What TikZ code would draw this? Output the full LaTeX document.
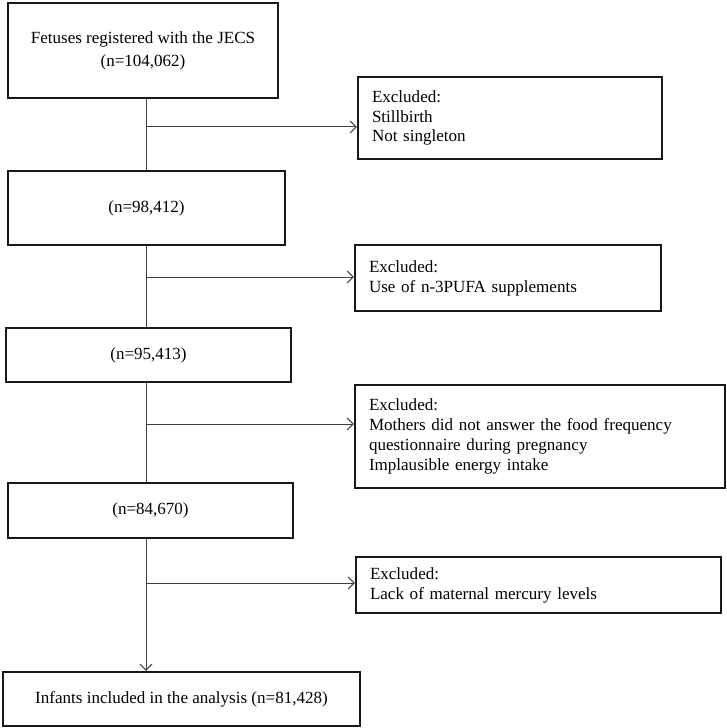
\documentclass[tikz,border=0pt]{standalone}
\usepackage{fontspec}
\setmainfont{Liberation Serif}
\usetikzlibrary{arrows.meta}
\begin{document}
\begin{tikzpicture}[x=1bp,y=-1bp,
  mainbox/.style={draw=black!90, line width=2.3bp, inner sep=0pt, align=center,
    font=\fontsize{17.1}{20}\selectfont},
  exbox/.style={draw=black!90, line width=2.3bp, inner xsep=14bp, inner ysep=0pt, align=left,
    font=\fontsize{17.1}{20}\selectfont},
  conn/.style={draw=black!75, line width=1bp},
  tip/.style={-{Straight Barb[length=6bp,width=12bp,line width=1bp]}}]
\useasboundingbox (0,0) rectangle (727,728);
\node[mainbox, minimum width=270bp, minimum height=95bp] (b1) at (143,50.5)
  {Fetuses registered with the JECS\\[3pt](n=104,062)};
\node[mainbox, minimum width=277bp, minimum height=74bp] (b2) at (146.5,208) {(n=98,412)};
\node[mainbox, minimum width=285bp, minimum height=54bp] (b3) at (148.5,355) {(n=95,413)};
\node[mainbox, minimum width=285bp, minimum height=55bp] (b4) at (150.5,510.5) {(n=84,670)};
\node[mainbox, minimum width=357bp, minimum height=54bp] (b5) at (181.5,699)
  {Infants included in the analysis (n=81,428)};
\node[exbox, text width=276bp, minimum height=82bp] (e1) at (510,118)
  {Excluded:\\Stillbirth\\Not singleton};
\node[exbox, text width=278bp, minimum height=66bp] (e2) at (508,278)
  {Excluded:\\Use of n-3PUFA supplements};
\node[exbox, text width=342bp, minimum height=103bp] (e3) at (540,436.5)
  {Excluded:\\Mothers did not answer the food frequency\\questionnaire during pregnancy\\Implausible energy intake};
\node[exbox, text width=337bp, minimum height=56bp] (e4) at (538.5,585)
  {Excluded:\\Lack of maternal mercury levels};
\coordinate (vx) at (146,0);
\coordinate (a1) at (146,127);
\coordinate (a2) at (146,277);
\coordinate (a3) at (146,424);
\coordinate (a4) at (146,583);
\draw[conn] (b1.south -| vx) -- (b2.north -| vx);
\draw[conn] (b2.south -| vx) -- (b3.north -| vx);
\draw[conn] (b3.south -| vx) -- (b4.north -| vx);
\draw[conn, tip] (b4.south -| vx) -- (b5.north -| vx);
\draw[conn, tip] (a1) -- (a1 -| e1.west);
\draw[conn, tip] (a2) -- (a2 -| e2.west);
\draw[conn, tip] (a3) -- (a3 -| e3.west);
\draw[conn, tip] (a4) -- (a4 -| e4.west);
\end{tikzpicture}
\end{document}
